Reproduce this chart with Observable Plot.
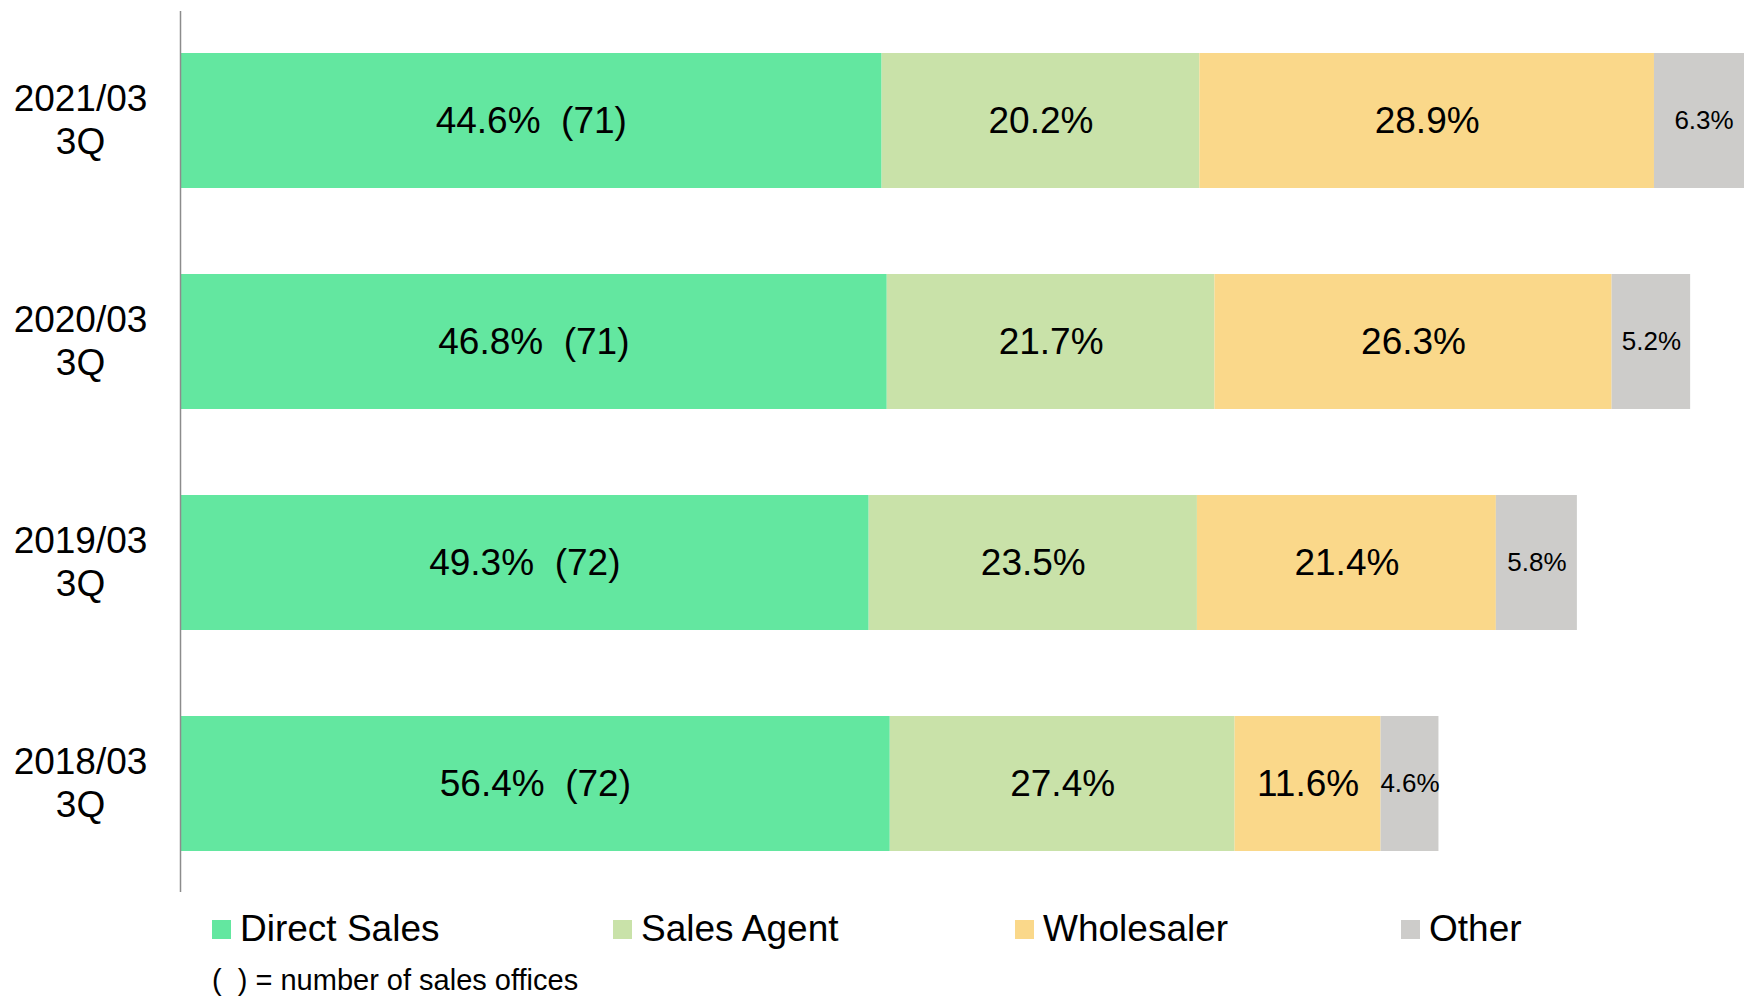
<!DOCTYPE html>
<html>
<head>
<meta charset="utf-8">
<script src="https://cdn.jsdelivr.net/npm/d3@7"></script>
<script src="https://cdn.jsdelivr.net/npm/@observablehq/plot@0.6"></script>
<style>
html, body { margin: 0; padding: 0; background: #fff; overflow: hidden; }
#wrap { position: relative; width: 1744px; height: 997px; font-family: "Liberation Sans", Arial, sans-serif; color: #000; }
.leg { position: absolute; top: 909px; height: 40px; display: flex; align-items: center; font-size: 37px; white-space: nowrap; }
.sw { width: 19px; height: 19px; margin-right: 9px; flex: none; }
#note { position: absolute; left: 212px; top: 966px; font-size: 29px; line-height: 1; white-space: pre; }
</style>
</head>
<body>
<div id="wrap">
  <div id="chart"></div>
  <div id="legend"></div>
  <div id="note"></div>
</div>
<script>
// ---- data ----
const periods = ["2021/03\n3Q", "2020/03\n3Q", "2019/03\n3Q", "2018/03\n3Q"];
const channels = ["Direct Sales", "Sales Agent", "Wholesaler", "Other"];
const directSales = [44.6, 46.8, 49.3, 56.4];
const salesAgent  = [20.2, 21.7, 23.5, 27.4];
const wholesaler  = [28.9, 26.3, 21.4, 11.6];
const other       = [6.3, 5.2, 5.8, 4.6];
// relative size of each period's total (bar length), 2018/03 3Q = 100
const totalIndex  = [125, 120, 111, 100];
const offices     = [71, 71, 72, 72];
const channelColors = ["#63E7A0", "#C9E2A9", "#FAD88A", "#CDCCCA"];
const legendLeft = [212, 613, 1015, 1401];
const noteText = "(  ) = number of sales offices";

const series = [directSales, salesAgent, wholesaler, other];
const rows = [];
periods.forEach((p, i) => {
  channels.forEach((c, j) => {
    const pct = series[j][i];
    rows.push({
      period: p,
      channel: c,
      pct,
      value: pct * totalIndex[i] / 100,
      label: j === 0 ? `${pct.toFixed(1)}%  (${offices[i]})` : `${pct.toFixed(1)}%`,
      size: j === 3 ? 26 : 37
    });
  });
});

const chart = Plot.plot({
  width: 1744,
  height: 900,
  marginLeft: 180,
  marginRight: 0,
  marginTop: 11,
  marginBottom: 8,
  style: { fontFamily: "Liberation Sans, Arial, sans-serif", background: "#fff", color: "#000" },
  x: { domain: [0, 124.28], axis: null },
  y: { domain: periods, paddingInner: 0.39, paddingOuter: 0.185, axis: null },
  color: { domain: channels, range: channelColors },
  marks: [
    Plot.barX(rows, Plot.stackX({ y: "period", x: "value", z: "channel", fill: "channel", clip: true })),
    Plot.text(rows, Plot.stackX({
      y: "period", x: "value", z: "channel",
      text: "label", fontSize: d => d.size, fill: "#000"
    })),
    Plot.text(periods, {
      y: d => d, text: d => d, frameAnchor: "left", dx: -100, dy: -2,
      textAnchor: "middle", fontSize: 37, lineHeight: 1.14, fill: "#000"
    }),
    Plot.ruleX([0], { stroke: "#8c8c8c", strokeWidth: 1.5 })
  ]
});
document.getElementById("chart").appendChild(chart);

const legend = document.getElementById("legend");
channels.forEach((c, j) => {
  const item = document.createElement("div");
  item.className = "leg";
  item.style.left = legendLeft[j] + "px";
  const sw = document.createElement("div");
  sw.className = "sw";
  sw.style.background = channelColors[j];
  const t = document.createElement("span");
  t.textContent = c;
  item.appendChild(sw);
  item.appendChild(t);
  legend.appendChild(item);
});
document.getElementById("note").textContent = noteText;
</script>
</body>
</html>
